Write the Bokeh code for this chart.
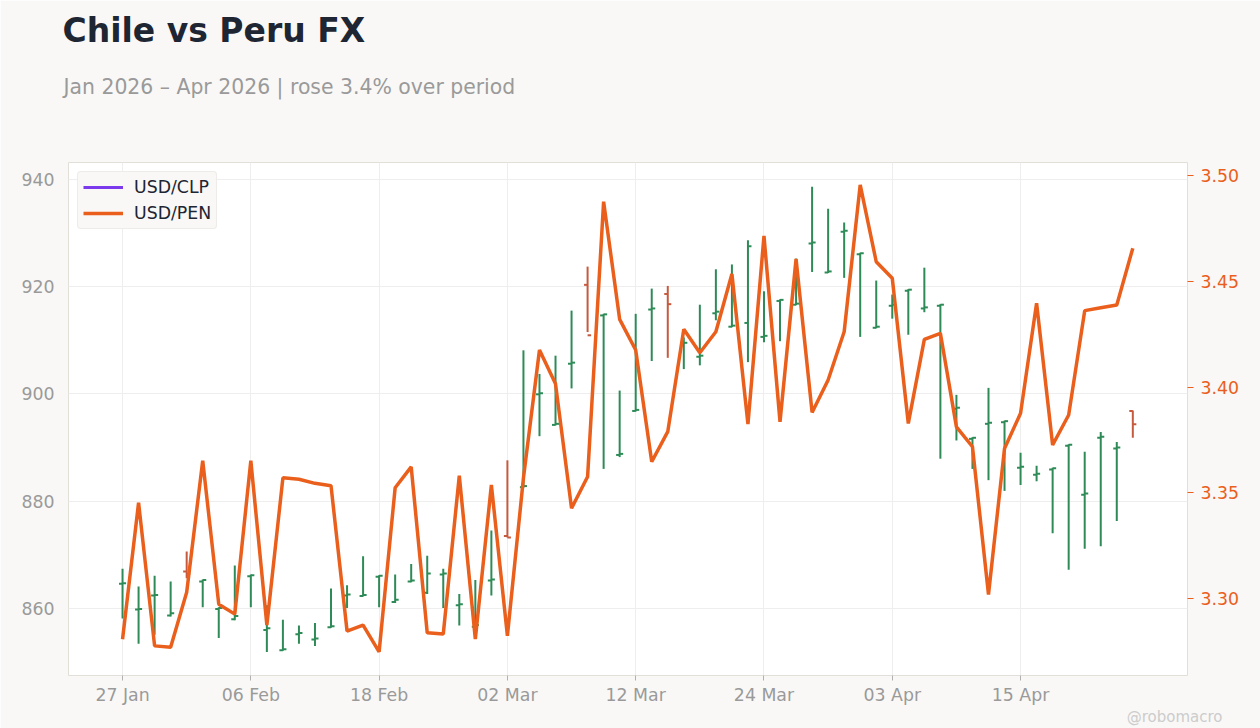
import pandas as pd
from bokeh.plotting import figure
from bokeh.models import (Range1d, LinearAxis, FixedTicker, Legend, LegendItem,
                          ColumnDataSource, NumeralTickFormatter, Title)
from bokeh.embed import file_html
from bokeh.resources import INLINE

# ---------------- data ----------------
dates = pd.bdate_range("2026-01-27", periods=64)

clp_open = [864.6, 859.8, 862.4, 858.7, 866.9, 865.0, 859.9, 858.0, 866.0, 856.0,
            852.2, 855.2, 854.2, 856.5, 862.4, 862.3, 865.9, 861.2, 865.0, 862.9,
            866.3, 860.6, 856.6, 865.2, 873.5, 882.6, 899.9, 894.2, 905.6, 920.3,
            914.6, 888.6, 896.8, 915.7, 918.6, 909.3, 906.9, 915.0, 912.5, 913.2,
            910.6, 917.3, 916.6, 928.0, 922.6, 930.2, 926.0, 912.3, 916.4, 919.2,
            915.9, 916.4, 897.2, 891.6, 894.4, 894.7, 886.2, 884.9, 885.9, 890.3,
            881.2, 891.8, 889.8, 896.8]
clp_high = [867.4, 864.1, 866.1, 865.0, 870.6, 865.4, 860.2, 868.0, 866.3, 860.6,
            857.9, 856.8, 857.3, 863.7, 864.3, 869.7, 866.2, 866.3, 868.3, 869.8,
            867.4, 862.7, 865.3, 874.5, 887.6, 908.1, 903.7, 907.1, 915.5, 923.7,
            914.9, 900.6, 914.9, 919.6, 920.1, 910.5, 916.6, 923.2, 924.1, 928.6,
            919.1, 917.6, 925.2, 938.6, 934.5, 931.9, 926.3, 921.1, 918.5, 919.5,
            923.5, 916.7, 899.8, 891.9, 901.1, 895.0, 889.0, 886.6, 886.2, 890.6,
            889.2, 892.9, 891.0, 896.9]
clp_low = [858.1, 853.4, 855.1, 858.5, 865.6, 860.2, 854.5, 857.8, 860.2, 851.9,
           852.1, 853.4, 853.0, 856.4, 860.1, 862.2, 860.2, 861.0, 864.9, 862.7,
           860.1, 856.8, 856.5, 862.4, 873.2, 882.5, 892.1, 894.1, 901.0, 911.5,
           886.0, 888.2, 896.7, 906.1, 906.7, 904.6, 905.3, 913.7, 912.4, 905.9,
           909.6, 909.8, 916.5, 922.7, 922.5, 921.6, 910.6, 912.2, 914.0, 911.0,
           915.2, 887.9, 891.3, 886.0, 883.9, 881.9, 883.0, 883.7, 874.0, 867.2,
           871.1, 871.6, 876.3, 891.8]
clp_close = [864.7, 859.9, 862.5, 859.1, 866.4, 865.3, 860.1, 858.6, 866.2, 856.3,
             852.4, 855.4, 854.4, 856.7, 862.6, 862.5, 866.1, 861.6, 865.2, 866.5,
             866.5, 860.8, 856.9, 865.4, 873.2, 882.8, 900.1, 894.4, 905.8, 910.9,
             914.8, 888.8, 897.0, 915.9, 916.7, 909.5, 907.1, 915.3, 912.7, 927.5,
             910.8, 917.5, 916.8, 928.2, 922.8, 930.4, 926.2, 912.5, 916.6, 919.4,
             916.1, 916.6, 897.4, 891.8, 894.6, 894.9, 886.4, 885.1, 886.1, 890.5,
             881.4, 892.0, 890.0, 894.3]
pen = [3.2808, 3.3453, 3.2777, 3.2770, 3.3030, 3.3652, 3.2974, 3.2927, 3.3652, 3.2875,
       3.3571, 3.3564, 3.3545, 3.3534, 3.2847, 3.2875, 3.2749, 3.3524, 3.3623, 3.2839,
       3.2833, 3.3581, 3.2809, 3.3537, 3.2825, 3.3570, 3.4175, 3.4015, 3.3427, 3.3576,
       3.4876, 3.4320, 3.4175, 3.3647, 3.3789, 3.4273, 3.4162, 3.4261, 3.4534, 3.3825,
       3.4714, 3.3836, 3.4605, 3.3880, 3.4033, 3.4261, 3.4955, 3.4592, 3.4514, 3.3828,
       3.4225, 3.4254, 3.3812, 3.3718, 3.3020, 3.3710, 3.3876, 3.4396, 3.3726, 3.3868,
       3.4361, 3.4375, 3.4388, 3.4656]

left_ticks = [860, 880, 900, 920, 940]
right_ticks = [3.30, 3.35, 3.40, 3.45, 3.50]
tick_every = 8

# ---------------- styling ----------------
GREEN = "#2e8b57"
RED = "#c65a3e"
ORANGE = "#ea5f1c"
PURPLE = "#7c3aed"
GRAY = "#9a9a9a"
BG = "#f9f8f6"
FONT = "DejaVu Sans"
FS = "13pt"

n = len(clp_open)
xs = list(range(n))
w = 0.22
src = ColumnDataSource(dict(
    x=xs,
    xl=[v - w for v in xs],
    xr=[v + w for v in xs],
    o=clp_open, h=clp_high, l=clp_low, c=clp_close,
    col=[GREEN if c >= o else RED for o, c in zip(clp_open, clp_close)],
))

p = figure(width=1260, height=728, output_backend="svg", toolbar_location=None,
           x_range=Range1d(-3.37, 66.41), y_range=Range1d(847.5, 943.1),
           min_border_left=68, min_border_right=73, min_border_top=162, min_border_bottom=53,
           background_fill_color="white", border_fill_color=BG,
           outline_line_color="#e2dfd9", outline_line_width=1)
p.extra_y_ranges = {"pen": Range1d(3.2637, 3.5061)}

p.segment(x0="x", y0="l", x1="x", y1="h", color="col", line_width=2, source=src)
p.segment(x0="xl", y0="o", x1="x", y1="o", color="col", line_width=2, source=src)
p.segment(x0="x", y0="c", x1="xr", y1="c", color="col", line_width=2, source=src)

r_pen = p.line(xs, pen, y_range_name="pen", color=ORANGE, line_width=3.5)
r_clp = p.line([-20, -19], [800, 800], color=PURPLE, line_width=3)

# axes
tick_idx = list(range(0, n, tick_every))
xa = p.xaxis[0]
xa.ticker = FixedTicker(ticks=tick_idx)
xa.major_label_overrides = {i: dates[i].strftime("%d %b") for i in tick_idx}
xa.axis_line_color = None
xa.major_tick_line_color = "#b0b0b0"
xa.major_tick_out = 5
xa.major_tick_in = 0
xa.minor_tick_line_color = None
xa.major_label_text_color = GRAY
xa.major_label_text_font_size = FS
xa.major_label_text_font = FONT
xa.major_label_standoff = 4

ya = p.yaxis[0]
ya.ticker = FixedTicker(ticks=left_ticks)
ya.axis_line_color = None
ya.major_tick_line_color = None
ya.major_tick_out = 6
ya.minor_tick_line_color = None
ya.major_label_text_color = GRAY
ya.major_label_text_font_size = FS
ya.major_label_text_font = FONT
ya.major_label_standoff = 8

ra = LinearAxis(y_range_name="pen", ticker=FixedTicker(ticks=right_ticks),
                formatter=NumeralTickFormatter(format="0.00"))
ra.axis_line_color = None
ra.major_tick_line_color = ORANGE
ra.major_tick_out = 6
ra.major_tick_in = 0
ra.minor_tick_line_color = None
ra.major_label_text_color = ORANGE
ra.major_label_text_font_size = FS
ra.major_label_text_font = FONT
ra.major_label_standoff = 7
p.add_layout(ra, "right")

p.xgrid.grid_line_color = "#eeeeee"
p.ygrid.grid_line_color = "#eeeeee"

legend = Legend(items=[LegendItem(label="USD/CLP", renderers=[r_clp]),
                       LegendItem(label="USD/PEN", renderers=[r_pen])],
                location="top_left")
legend.label_text_font_size = FS
legend.label_text_font = FONT
legend.label_text_color = "#1e2533"
legend.background_fill_color = BG
legend.background_fill_alpha = 1
legend.border_line_color = "#e2dfd9"
legend.border_radius = 4
legend.glyph_width = 40
legend.glyph_height = 20
legend.label_height = 20
legend.spacing = 6
legend.padding = 5
legend.margin = 9
legend.label_standoff = 11
p.add_layout(legend)

# titles above (inner first, outer last): spacer, subtitle, title
p.add_layout(Title(text=" ", text_font=FONT, text_font_size="2px",
                   align="left", standoff=36), "above")
p.add_layout(Title(text="Jan 2026 \u2013 Apr 2026 | rose 3.4% over period",
                   text_font=FONT, text_font_size="20.4px", text_font_style="normal",
                   text_color=GRAY, align="left", offset=-5, standoff=46.6), "above")
p.add_layout(Title(text="Chile vs Peru FX", text_font=FONT, text_font_size="33px",
                   text_font_style="bold", text_color="#1e2533", align="left",
                   offset=-6, standoff=0), "above")

# watermark below the x axis
p.add_layout(Title(text="@robomacro", text_font=FONT, text_font_size="15px",
                   text_font_style="normal", text_color="#cccccc", align="right",
                   offset=-35, standoff=0, vertical_align="top"), "below")

open("out.html", "w").write(file_html(p, INLINE))
